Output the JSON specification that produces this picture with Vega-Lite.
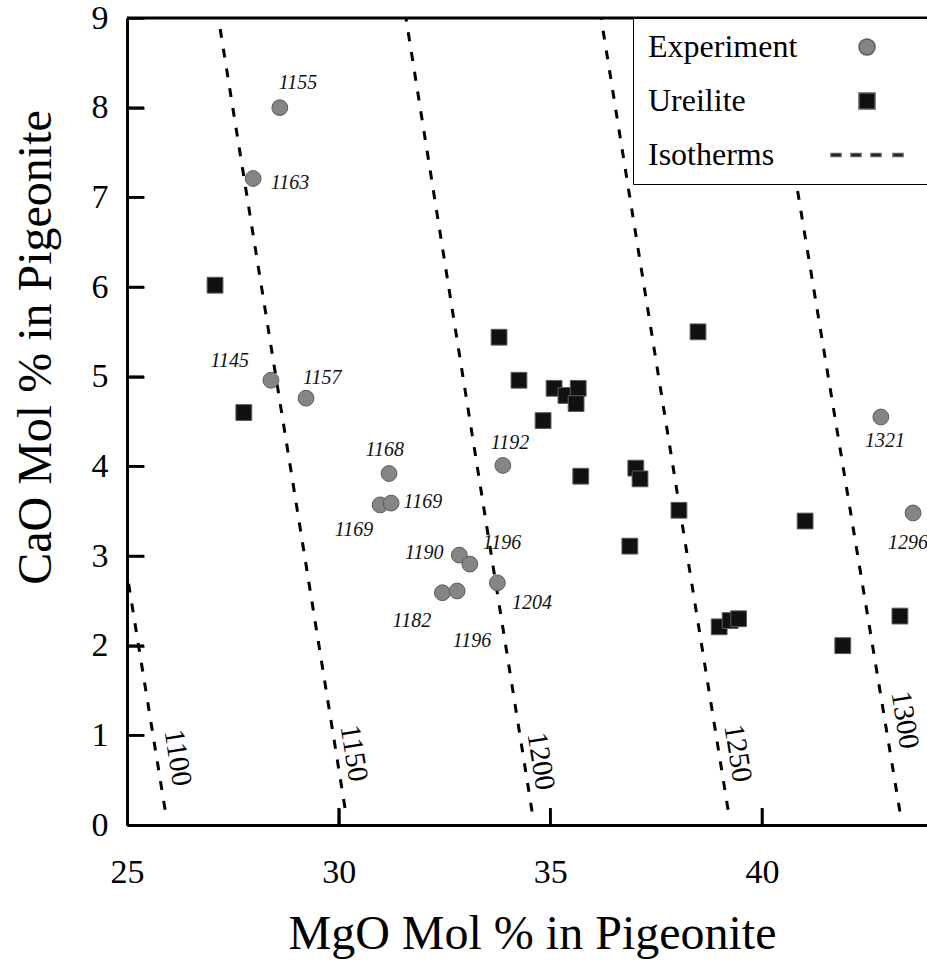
{
  "$schema": "https://vega.github.io/schema/vega-lite/v6.json",
  "width": 800,
  "height": 807,
  "autosize": {"type": "none"},
  "padding": {"left": 127, "top": 18, "right": 0, "bottom": 137},
  "background": "white",
  "config": {
    "view": {"stroke": null},
    "font": "Liberation Serif",
    "axis": {
      "grid": false,
      "domainColor": "black",
      "domainWidth": 3,
      "tickColor": "black",
      "tickWidth": 2.5,
      "tickSize": -17,
      "labelFlush": false,
      "labelFont": "Liberation Serif",
      "labelFontSize": 34,
      "labelColor": "black",
      "titleFont": "Liberation Serif",
      "titleFontSize": 48,
      "titleFontWeight": "normal",
      "titleColor": "black"
    }
  },
  "datasets": {
    "samples": [
      {"type": "Experiment", "MgO": 28.61, "CaO": 8.00, "label": "1155", "lx": 29.04, "ly": 8.28},
      {"type": "Experiment", "MgO": 27.98, "CaO": 7.21, "label": "1163", "lx": 28.85, "ly": 7.16},
      {"type": "Experiment", "MgO": 28.40, "CaO": 4.96, "label": "1145", "lx": 27.43, "ly": 5.17},
      {"type": "Experiment", "MgO": 29.23, "CaO": 4.76, "label": "1157", "lx": 29.61, "ly": 4.99},
      {"type": "Experiment", "MgO": 31.19, "CaO": 3.92, "label": "1168", "lx": 31.09, "ly": 4.18},
      {"type": "Experiment", "MgO": 30.98, "CaO": 3.57, "label": "1169", "lx": 30.36, "ly": 3.29},
      {"type": "Experiment", "MgO": 31.24, "CaO": 3.59, "label": "1169", "lx": 31.99, "ly": 3.60},
      {"type": "Experiment", "MgO": 32.85, "CaO": 3.01, "label": "1190", "lx": 32.02, "ly": 3.03},
      {"type": "Experiment", "MgO": 33.10, "CaO": 2.91, "label": "1196", "lx": 33.86, "ly": 3.14},
      {"type": "Experiment", "MgO": 32.45, "CaO": 2.59, "label": "1182", "lx": 31.73, "ly": 2.27},
      {"type": "Experiment", "MgO": 32.80, "CaO": 2.61, "label": "1196", "lx": 33.15, "ly": 2.05},
      {"type": "Experiment", "MgO": 33.75, "CaO": 2.70, "label": "1204", "lx": 34.57, "ly": 2.48},
      {"type": "Experiment", "MgO": 33.88, "CaO": 4.01, "label": "1192", "lx": 34.05, "ly": 4.26},
      {"type": "Experiment", "MgO": 42.81, "CaO": 4.55, "label": "1321", "lx": 42.91, "ly": 4.28},
      {"type": "Experiment", "MgO": 43.57, "CaO": 3.48, "label": "1296", "lx": 43.45, "ly": 3.15},
      {"type": "Ureilite", "MgO": 27.08, "CaO": 6.02},
      {"type": "Ureilite", "MgO": 27.76, "CaO": 4.60},
      {"type": "Ureilite", "MgO": 33.79, "CaO": 5.44},
      {"type": "Ureilite", "MgO": 34.26, "CaO": 4.96},
      {"type": "Ureilite", "MgO": 35.09, "CaO": 4.87},
      {"type": "Ureilite", "MgO": 35.37, "CaO": 4.79},
      {"type": "Ureilite", "MgO": 35.66, "CaO": 4.87},
      {"type": "Ureilite", "MgO": 35.61, "CaO": 4.70},
      {"type": "Ureilite", "MgO": 34.83, "CaO": 4.51},
      {"type": "Ureilite", "MgO": 35.72, "CaO": 3.89},
      {"type": "Ureilite", "MgO": 37.02, "CaO": 3.98},
      {"type": "Ureilite", "MgO": 37.12, "CaO": 3.86},
      {"type": "Ureilite", "MgO": 38.04, "CaO": 3.51},
      {"type": "Ureilite", "MgO": 36.88, "CaO": 3.11},
      {"type": "Ureilite", "MgO": 38.49, "CaO": 5.50},
      {"type": "Ureilite", "MgO": 41.02, "CaO": 3.39},
      {"type": "Ureilite", "MgO": 38.99, "CaO": 2.21},
      {"type": "Ureilite", "MgO": 39.25, "CaO": 2.28},
      {"type": "Ureilite", "MgO": 39.45, "CaO": 2.30},
      {"type": "Ureilite", "MgO": 41.91, "CaO": 2.00},
      {"type": "Ureilite", "MgO": 43.26, "CaO": 2.33}
    ],
    "iso": [
      {"T": "1100", "MgO": 25.0, "CaO": 2.8},
      {"T": "1100", "MgO": 25.9, "CaO": 0.17},
      {"T": "1150", "MgO": 27.16, "CaO": 9.0},
      {"T": "1150", "MgO": 30.15, "CaO": 0.19},
      {"T": "1200", "MgO": 31.59, "CaO": 9.0},
      {"T": "1200", "MgO": 34.57, "CaO": 0.15},
      {"T": "1250", "MgO": 36.2, "CaO": 9.0},
      {"T": "1250", "MgO": 39.2, "CaO": 0.17},
      {"T": "1300", "MgO": 40.17, "CaO": 9.0},
      {"T": "1300", "MgO": 43.26, "CaO": 0.15}
    ],
    "isolab": [
      {"T": "1100", "MgO": 26.2, "CaO": 0.75},
      {"T": "1150", "MgO": 30.36, "CaO": 0.80},
      {"T": "1200", "MgO": 34.78, "CaO": 0.71},
      {"T": "1250", "MgO": 39.43, "CaO": 0.80},
      {"T": "1300", "MgO": 43.38, "CaO": 1.17}
    ],
    "xticks": [{"MgO": 30}, {"MgO": 35}, {"MgO": 40}],
    "yticks": [{"CaO": 1}, {"CaO": 2}, {"CaO": 3}, {"CaO": 4}, {"CaO": 5}, {"CaO": 6}, {"CaO": 7}, {"CaO": 8}]
  },
  "layer": [
    {
      "data": {"name": "iso"},
      "mark": {"type": "line", "strokeDash": [9, 11], "strokeWidth": 3, "color": "black", "clip": true},
      "encoding": {
        "x": {
          "field": "MgO", "type": "quantitative",
          "scale": {"domain": [25, 43.9], "nice": false, "zero": false},
          "title": "MgO Mol % in Pigeonite",
          "axis": {"values": [25, 30, 35, 40], "format": "d", "ticks": true, "tickSize": -17, "tickColor": "black", "tickWidth": 2.5, "domainWidth": 3, "domainColor": "black", "labelFlush": false, "labelFont": "Liberation Serif", "labelFontSize": 34, "labelColor": "black", "labelPadding": 47, "labelBaseline": "top", "titleBaseline": "alphabetic", "titleX": 405, "titleY": 123}
        },
        "y": {
          "field": "CaO", "type": "quantitative",
          "scale": {"domain": [0, 9], "nice": false, "zero": false},
          "title": "CaO Mol % in Pigeonite",
          "axis": {"values": [0, 1, 2, 3, 4, 5, 6, 7, 8, 9], "format": "d", "ticks": true, "tickSize": -17, "tickColor": "black", "tickWidth": 2.5, "domainWidth": 3, "domainColor": "black", "labelFlush": false, "labelFont": "Liberation Serif", "labelFontSize": 34, "labelColor": "black", "labelPadding": 36, "titleBaseline": "alphabetic", "titleAngle": -90, "titleAlign": "center", "titleX": -77, "titleY": 329}
        },
        "detail": {"field": "T"},
        "order": {"field": "CaO", "type": "quantitative"}
      }
    },
    {
      "data": {"name": "xticks"},
      "mark": {"type": "rule", "strokeWidth": 2.5, "color": "black"},
      "encoding": {
        "x": {"field": "MgO", "type": "quantitative", "title": "MgO Mol % in Pigeonite"},
        "y": {"datum": 0, "type": "quantitative"},
        "y2": {"datum": 0.19}
      }
    },
    {
      "data": {"name": "yticks"},
      "mark": {"type": "rule", "strokeWidth": 2.5, "color": "black"},
      "encoding": {
        "y": {"field": "CaO", "type": "quantitative", "title": "CaO Mol % in Pigeonite"},
        "x": {"datum": 25, "type": "quantitative"},
        "x2": {"datum": 25.4}
      }
    },
    {
      "data": {"values": [{}]},
      "mark": {"type": "rule", "strokeWidth": 3, "color": "black"},
      "encoding": {"y": {"datum": 9, "type": "quantitative"}}
    },
    {
      "data": {"name": "isolab"},
      "mark": {"type": "text", "angle": 81, "font": "Liberation Serif", "fontSize": 29, "align": "center", "baseline": "middle", "color": "black"},
      "encoding": {
        "x": {"field": "MgO", "type": "quantitative", "title": "MgO Mol % in Pigeonite"},
        "y": {"field": "CaO", "type": "quantitative", "title": "CaO Mol % in Pigeonite"},
        "text": {"field": "T"}
      }
    },
    {
      "data": {"name": "samples"},
      "mark": {"type": "point", "filled": true, "size": 250, "opacity": 1, "stroke": "#5c5c5c", "strokeWidth": 1},
      "encoding": {
        "x": {"field": "MgO", "type": "quantitative", "title": "MgO Mol % in Pigeonite"},
        "y": {"field": "CaO", "type": "quantitative", "title": "CaO Mol % in Pigeonite"},
        "color": {
          "field": "type", "type": "nominal",
          "scale": {"domain": ["Experiment", "Ureilite", "Isotherms"], "range": ["#858585", "#111111", "#111111"]},
          "legend": {
            "title": null,
            "orient": "none",
            "direction": "vertical",
            "legendX": 506,
            "legendY": 0,
            "padding": 13,
            "rowPadding": 22,
            "strokeColor": "black",
            "fillColor": "white",
            "labelFont": "Liberation Serif",
            "labelFontSize": 32,
            "labelColor": "black",
            "labelLimit": 400,
            "labelBaseline": "middle",
            "labelOffset": -235,
            "symbolOffset": 205,
            "symbolSize": 256,
            "symbolOpacity": 1,
            "encode": {"legend": {"update": {"strokeWidth": {"value": 2.5}}}}
          }
        },
        "shape": {
          "field": "type", "type": "nominal",
          "scale": {"domain": ["Experiment", "Ureilite", "Isotherms"], "range": ["circle", "square", "M-4.5,-0.19H-3.25V0.19H-4.5Z M-2,-0.19H-0.75V0.19H-2Z M0.5,-0.19H1.75V0.19H0.5Z M3.25,-0.19H4.5V0.19H3.25Z M12,0"]}
        }
      }
    },
    {
      "data": {"name": "samples"},
      "transform": [{"filter": "datum.label != null"}],
      "mark": {"type": "text", "font": "Liberation Serif", "fontStyle": "italic", "fontSize": 20, "align": "center", "baseline": "middle", "color": "#111111"},
      "encoding": {
        "x": {"field": "lx", "type": "quantitative", "title": "MgO Mol % in Pigeonite"},
        "y": {"field": "ly", "type": "quantitative", "title": "CaO Mol % in Pigeonite"},
        "text": {"field": "label"}
      }
    }
  ]
}
